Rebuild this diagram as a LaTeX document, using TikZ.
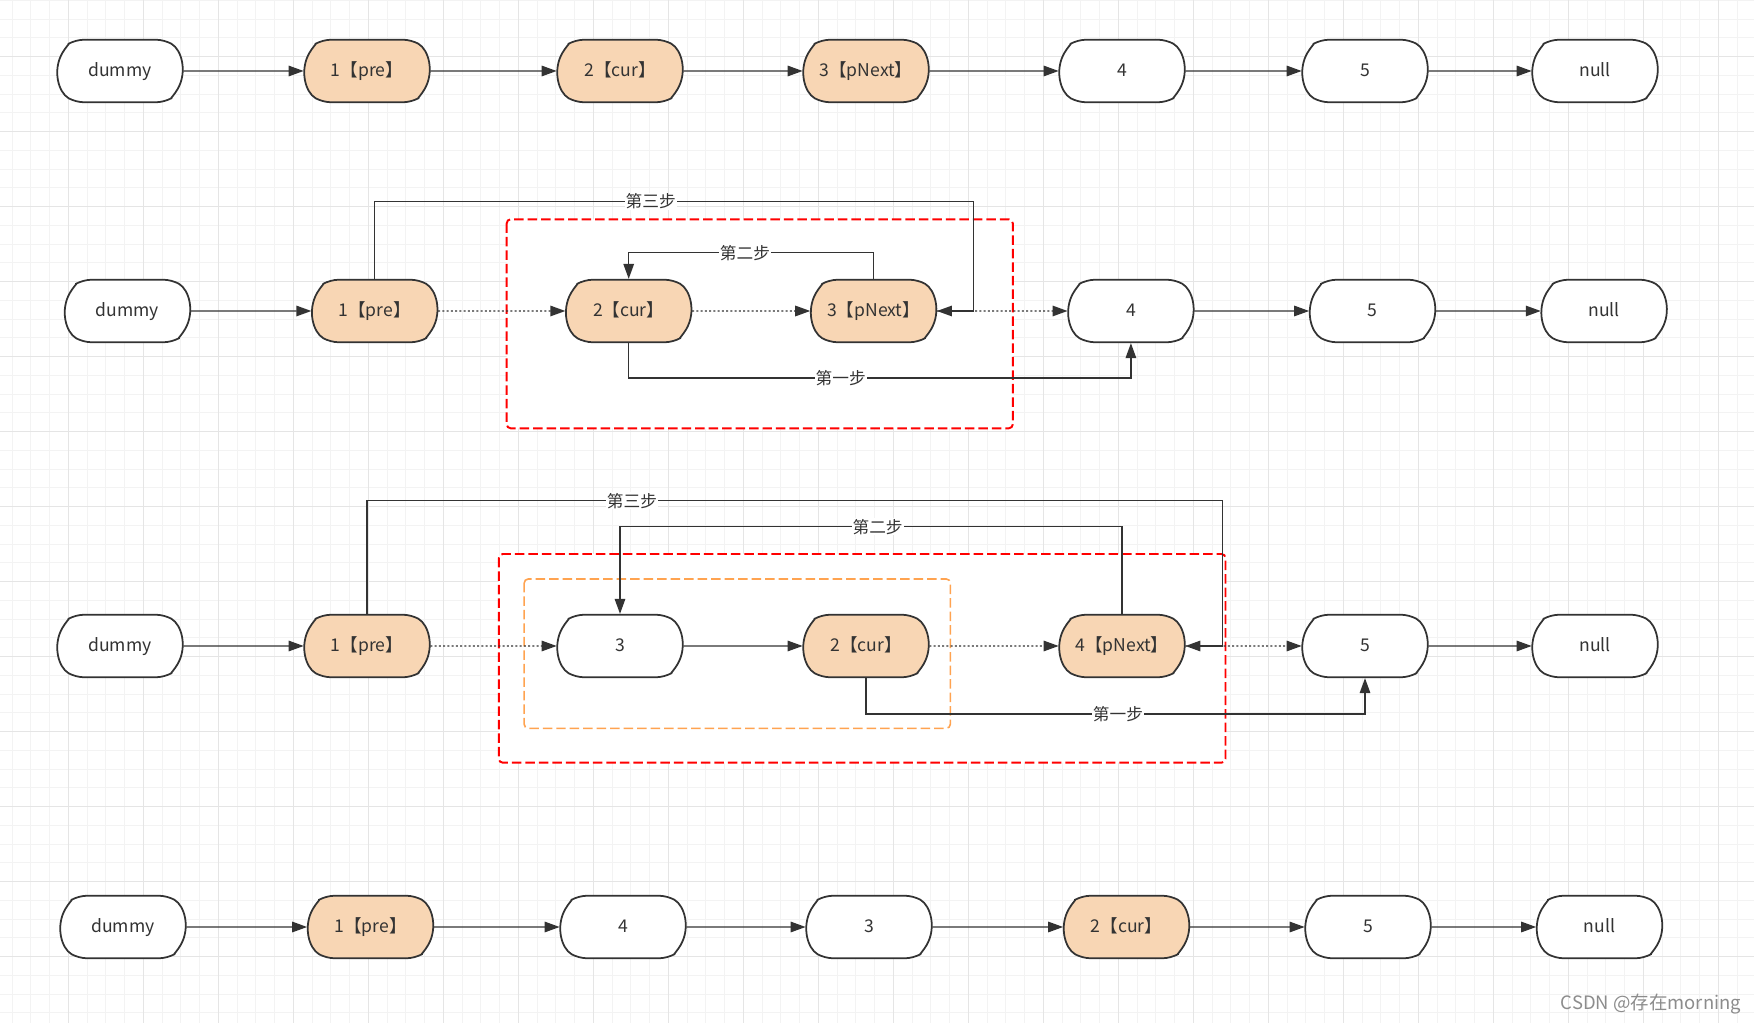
\documentclass[tikz,border=0pt]{standalone}
\usepackage{fontspec}
\setmainfont{Noto Sans CJK SC}
\usepackage{xcolor}
\usepackage{tikz}
\usetikzlibrary{arrows.meta,shapes.misc}
\definecolor{NodePeach}{RGB}{248,214,180}
\definecolor{LineGray}{RGB}{51,51,51}
\definecolor{GridMinor}{RGB}{243,243,243}
\definecolor{GridMajor}{RGB}{229,229,229}
\definecolor{BoxRed}{RGB}{255,0,0}
\definecolor{BoxOrange}{RGB}{255,163,80}
\definecolor{MarkGray}{RGB}{140,140,140}

\begin{document}
\begin{tikzpicture}[
        x=0.02cm, y=-0.02cm,
        % --- STYLE CHUNG ---
        list_node/.style={
            rounded rectangle,
            rounded rectangle arc length=120,
            rounded corners=0.16cm,
            draw=LineGray,
            line width=1pt,
            minimum width=2.5cm,
            minimum height=1.25cm,
            inner sep=0pt,
            text height=1.55ex, text depth=0.3ex,
            fill=white,
            text=LineGray,
            font=\fontsize{10}{12}\selectfont
        },
        % pointer nodes (peach)
        hot_node/.style={
            list_node,
            fill=NodePeach
        },
        % arrows
        link/.style={
            draw=LineGray,
            line width=0.8pt,
            -{Triangle[length=0.3cm, width=0.21cm]}
        },
        dot_link/.style={
            link,
            dash pattern=on 0.04cm off 0.045cm
        },
        step_label/.style={
            fill=white,
            inner sep=0.6pt,
            text=LineGray,
            font=\fontsize{9.5}{11}\selectfont
        },
        % dashed frames
        red_box/.style={
            draw=BoxRed, fill=white,
            line width=1.1pt,
            dash pattern=on 0.19cm off 0.08cm,
            rounded corners=0.08cm
        },
        orange_box/.style={
            draw=BoxOrange,
            line width=0.9pt,
            dash pattern=on 0.19cm off 0.08cm,
            rounded corners=0.08cm
        },
        grid_minor/.style={draw=GridMinor, line width=0.02cm},
        grid_major/.style={draw=GridMajor, line width=0.02cm}
    ]

    % --- NỀN LƯỚI ---
    \useasboundingbox (0,0) rectangle (1754,1023);
    \fill[white] (0,0) rectangle (1754,1023);
    \foreach \i in {0,...,92}
        \draw[grid_minor] ({12.05+18.75*\i},0) -- ++(0,1023);
    \foreach \j in {0,...,54}
        \draw[grid_minor] (0,{0.45+18.75*\j}) -- ++(1754,0);
    \foreach \i in {0,...,22}
        \draw[grid_major] ({68.3+75*\i},0) -- ++(0,1023);
    \foreach \j in {0,...,12}
        \draw[grid_major] (0,{56.7+75*\j}) -- ++(1754,0);

    % --- KHUNG ĐỨT NÉT ---
    \draw[red_box] (506.7,219.3) rectangle (1012.8,428.3);
    \draw[red_box] (498.8,554) rectangle (1225.5,762.7);
    \draw[orange_box] (524.2,579) rectangle (950.3,728.3);

    % --- HÀNG 1: ban đầu ---
    \node[list_node] (dummyA) at (120,71) {dummy};
    \node[hot_node] (preA) at (367,71) {1【pre】};
    \node[hot_node] (curA) at (620,71) {2【cur】};
    \node[hot_node] (nextA) at (866,71) {3【pNext】};
    \node[list_node] (fourA) at (1122,71) {4};
    \node[list_node] (fiveA) at (1365,71) {5};
    \node[list_node] (nullA) at (1595,71) {null};
    \foreach \a/\b in {dummyA/preA, preA/curA, curA/nextA, nextA/fourA, fourA/fiveA, fiveA/nullA}
        \draw[link] (\a) -- (\b);

    % --- HÀNG 2: đổi 2 và 3 ---
    \node[list_node] (dummyB) at (127.5,311) {dummy};
    \node[hot_node] (preB) at (374.7,311) {1【pre】};
    \node[hot_node] (curB) at (628.7,311) {2【cur】};
    \node[hot_node] (nextB) at (873.6,311) {3【pNext】};
    \node[list_node] (fourB) at (1130.9,311) {4};
    \node[list_node] (fiveB) at (1372.5,311) {5};
    \node[list_node] (nullB) at (1604.1,311) {null};
    \foreach \a/\b in {dummyB/preB, fourB/fiveB, fiveB/nullB}
        \draw[link] (\a) -- (\b);
    \foreach \a/\b in {preB/curB, curB/nextB, nextB/fourB}
        \draw[dot_link] (\a) -- (\b);

    \draw[link] (preB.north) |- (973.2,201.3) |- (nextB.east);
    \draw[link] (nextB.north) |- (745,252.8) -| (curB.north);
    \draw[link] (curB.south) |- (840.7,378.1) -| (fourB.south);
    \node[step_label] (s3B) at (650.7,201.3) {第三步};
    \node[step_label] (s2B) at (745,252.8) {第二步};
    \node[step_label] (s1B) at (840.7,378.1) {第一步};

    % --- HÀNG 3: đổi 2 và 4 ---
    \node[list_node] (dummyC) at (120,646) {dummy};
    \node[hot_node] (preC) at (367,646) {1【pre】};
    \node[list_node] (threeC) at (620,646) {3};
    \node[hot_node] (curC) at (866,646) {2【cur】};
    \node[hot_node] (nextC) at (1122,646) {4【pNext】};
    \node[list_node] (fiveC) at (1365,646) {5};
    \node[list_node] (nullC) at (1595,646) {null};
    \foreach \a/\b in {dummyC/preC, threeC/curC, fiveC/nullC}
        \draw[link] (\a) -- (\b);
    \foreach \a/\b in {preC/threeC, curC/nextC, nextC/fiveC}
        \draw[dot_link] (\a) -- (\b);

    \draw[link] (preC.north) |- (1222.4,500.7) |- (nextC.east);
    \draw[link] (nextC.north) |- (877.6,526.7) -| (threeC.north);
    \draw[link] (curC.south) |- (1118,714) -| (fiveC.south);
    \node[step_label] (s3C) at (632,500.7) {第三步};
    \node[step_label] (s2C) at (877.6,526.7) {第二步};
    \node[step_label] (s1C) at (1118,714) {第一步};

    % --- HÀNG 4: kết quả ---
    \node[list_node] (dummyD) at (123,927) {dummy};
    \node[hot_node] (preD) at (370.5,927) {1【pre】};
    \node[list_node] (fourD) at (623,927) {4};
    \node[list_node] (threeD) at (869,927) {3};
    \node[hot_node] (curD) at (1126.5,927) {2【cur】};
    \node[list_node] (fiveD) at (1368,927) {5};
    \node[list_node] (nullD) at (1599.5,927) {null};
    \foreach \a/\b in {dummyD/preD, preD/fourD, fourD/threeD, threeD/curD, curD/fiveD, fiveD/nullD}
        \draw[link] (\a) -- (\b);

    % watermark
    \node[text=MarkGray, font=\fontsize{10.5}{12}\selectfont] (mark) at (1651,1004) {CSDN @存在morning};

\end{tikzpicture}
\end{document}
